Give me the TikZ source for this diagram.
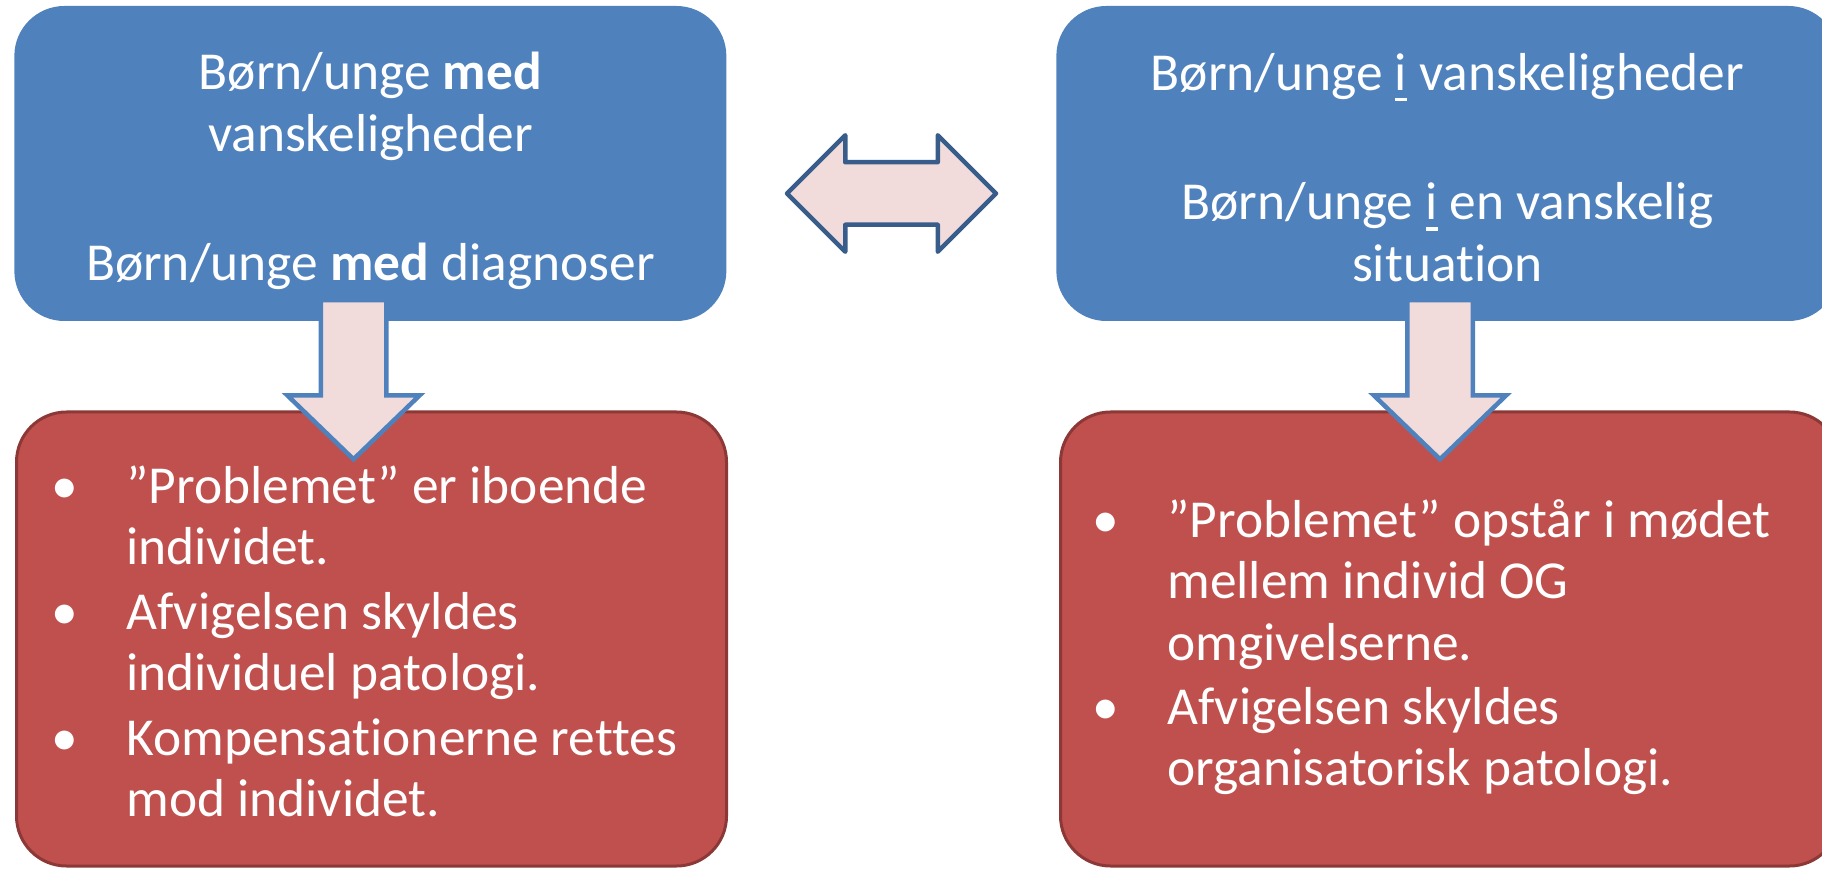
\documentclass[tikz,border=0pt]{standalone}
\usepackage{fontspec}
\setmainfont{Carlito}[Ligatures=NoCommon]
\usetikzlibrary{arrows.meta,positioning,calc,shapes.arrows}

\definecolor{boxblue}{HTML}{4F81BD}
\definecolor{boxred}{HTML}{C0504D}
\definecolor{rededge}{HTML}{8C3836}
\definecolor{arrfill}{HTML}{F2DCDB}
\definecolor{arredge}{HTML}{385D8A}

\tikzset{
  topblk/.style  = {fill=boxblue, rounded corners=1cm, minimum height=6.30cm,
                    inner sep=0pt},
  botblk/.style  = {draw=rededge, line width=0.06cm, fill=boxred,
                    rounded corners=1cm, minimum height=9.08cm, inner sep=0pt},
  toptxt/.style  = {align=center, inner sep=0pt, text=white,
                    font=\fontsize{30.4}{35.3}\selectfont},
  lst/.style     = {anchor=west, text width=#1, inner sep=0pt, text=white,
                    font=\fontsize{30.4}{34.8}\selectfont,
                    execute at begin node={\raggedright\spaceskip=0pt\xspaceskip=0pt
                                           \setlength{\parskip}{0.07cm}}},
  dblarr/.style  = {double arrow, draw=arredge, line width=0.09cm, fill=arrfill,
                    line join=round, inner xsep=0pt, inner ysep=0.58cm,
                    double arrow head extend=0.54cm, minimum height=4.18cm},
  downarr/.style = {single arrow, draw=boxblue, line width=0.09cm, fill=arrfill,
                    rotate=-90, inner xsep=0pt, inner ysep=0.61cm,
                    single arrow head extend=0.67cm, single arrow tip angle=92,
                    minimum height=3.18cm}
}
\newcommand{\pitem}[1]{\hangindent=1.5cm\hangafter=1\noindent
  \makebox[1.5cm][l]{\textbullet}#1\par}
\newcommand{\ulin}[1]{\setbox0=\hbox{#1}\rlap{\rule[-0.21em]{\wd0}{0.07em}}#1}

\begin{document}
\begin{tikzpicture}[x=1cm, y=1cm]
\useasboundingbox (0,0) rectangle (36.44,17.4);
\clip (0,0) rectangle (36.44,17.4);

% ---------------- upper boxes ----------------
\node[topblk, anchor=west, minimum width=14.24cm] (med) at (0.28,14.13) {};
\node[topblk, anchor=west, minimum width=15.64cm] (ivansk) at (21.12,14.13) {};
\node[toptxt] (medtxt) at ([yshift=-0.15cm]med.center)
      {Børn/unge \textbf{med}\\ vanskeligheder\\[1.35cm]
       Børn/unge \textbf{med} diagnoser};
\node[toptxt] (ivansktxt) at ([yshift=-0.08cm]ivansk.center)
      {Børn/unge \ulin{i} vanskeligheder\\[1.35cm]
       Børn/unge \ulin{i} en vanskelig\\ situation};

% ---------------- lower boxes ----------------
\node[botblk, anchor=west, minimum width=14.2cm] (indiv) at (0.30,4.62) {};
\node[botblk, anchor=west, minimum width=15.58cm] (organ) at (21.18,4.62) {};

\node[lst=13cm] (indivtxt) at (1.02,4.57)
      {\pitem{”Problemet” er iboende\newline individet.}
       \pitem{Afvigelsen skyldes\newline individuel patologi.}
       \pitem{Kompensationerne rettes\newline mod individet.}};
\node[lst=14.5cm] (organtxt) at (21.84,4.45)
      {\pitem{”Problemet” opstår i mødet\newline mellem individ OG\newline omgivelserne.}
       \pitem{Afvigelsen skyldes\newline organisatorisk patologi.}};

% ---------------- arrows ----------------
\node[dblarr] (swap) at (17.83,13.53) {};
\node[downarr, anchor=tail] (ldown) at (7.07,11.44) {};
\node[downarr, anchor=tail] (rdown) at (28.80,11.44) {};

\end{tikzpicture}
\end{document}
